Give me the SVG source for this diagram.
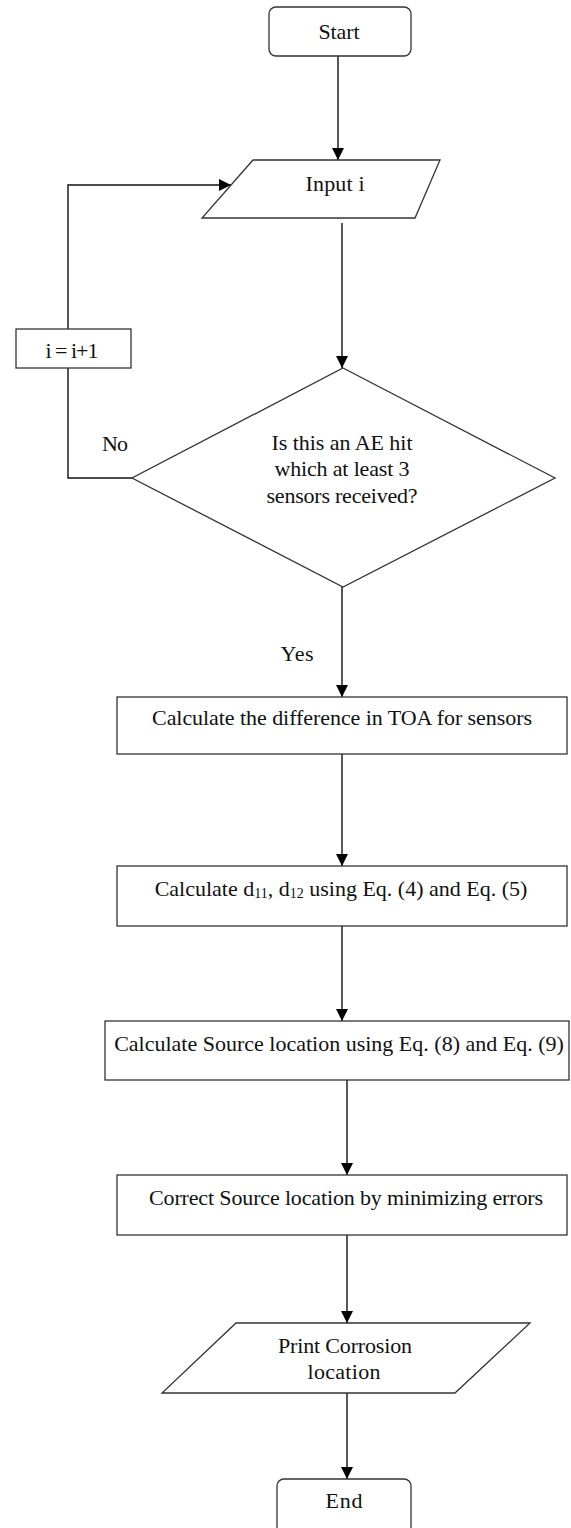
<svg xmlns="http://www.w3.org/2000/svg" width="571" height="1528" viewBox="0 0 571 1528">
<defs>
<marker id="ah" markerWidth="14" markerHeight="14" refX="12" refY="6" orient="auto" markerUnits="userSpaceOnUse">
<path d="M0,0 L12,6 L0,12 Z" fill="#000"/>
</marker>
<style>
.s{fill:#fff;stroke:#333;stroke-width:1.3}
.c{fill:none;stroke:#111;stroke-width:1.4}
.a{fill:none;stroke:#111;stroke-width:1.4;marker-end:url(#ah)}
text{font-family:"Liberation Serif","Times New Roman",serif;font-size:22px;fill:#111;text-anchor:middle;dominant-baseline:central}
</style>
</defs>
<rect width="571" height="1528" fill="#fff"/>
<g id="connectors">
<line class="a" x1="338" y1="56" x2="338" y2="160"/>
<line class="a" x1="342" y1="223" x2="342" y2="368"/>
<polyline class="a" points="132,478 68,478 68,185 231,185"/>
<line class="a" x1="342" y1="587" x2="342" y2="697"/>
<line class="a" x1="342" y1="754" x2="342" y2="866"/>
<line class="a" x1="342" y1="926" x2="342" y2="1021"/>
<line class="a" x1="347" y1="1080" x2="347" y2="1175"/>
<line class="a" x1="347" y1="1235" x2="347" y2="1323"/>
<line class="a" x1="347" y1="1393" x2="347" y2="1479"/>
<text x="115" y="443" textLength="26">No</text>
<text x="297" y="653" textLength="33">Yes</text>
</g>
<g id="start">
<rect class="s" x="269" y="7" width="142" height="49" rx="7"/>
<text x="339" y="31" textLength="41">Start</text>
</g>
<g id="input">
<polygon class="s" points="253,160 440,160 415,218 202,218"/>
<text x="335" y="183" textLength="59">Input i</text>
</g>
<g id="increment">
<rect class="s" x="16" y="329" width="115" height="39"/>
<text x="72" y="350" textLength="53">i = i+1</text>
</g>
<g id="decision">
<polygon class="s" points="343,368 555,478 343,587 132,478"/>
<text x="342" y="442" textLength="141">Is this an AE hit</text>
<text x="342" y="468" textLength="135">which at least 3</text>
<text x="342" y="495" textLength="151">sensors received?</text>
</g>
<g id="toa">
<rect class="s" x="117" y="697" width="450" height="57"/>
<text x="342" y="717" textLength="380">Calculate the difference in TOA for sensors</text>
</g>
<g id="d11">
<rect class="s" x="117" y="866" width="450" height="60"/>
<text x="341" y="888">Calculate d<tspan font-size="14" dy="5">11</tspan><tspan dy="-5">, d</tspan><tspan font-size="14" dy="5">12</tspan><tspan dy="-5"> using Eq. (4) and Eq. (5)</tspan></text>
</g>
<g id="source">
<rect class="s" x="105" y="1021" width="464" height="59"/>
<text x="339" y="1043" font-size="18.7">Calculate Source location using Eq. (8) and Eq. (9)</text>
</g>
<g id="correct">
<rect class="s" x="117" y="1175" width="450" height="60"/>
<text x="346" y="1197" textLength="394">Correct Source location by minimizing errors</text>
</g>
<g id="print">
<polygon class="s" points="236,1323 530,1323 455,1393 162,1393"/>
<text x="345" y="1345" textLength="134">Print Corrosion</text>
<text x="344" y="1371" textLength="73">location</text>
</g>
<g id="end">
<rect class="s" x="277" y="1479" width="134" height="56" rx="7"/>
<text x="344" y="1500" textLength="37">End</text>
</g>
</svg>
